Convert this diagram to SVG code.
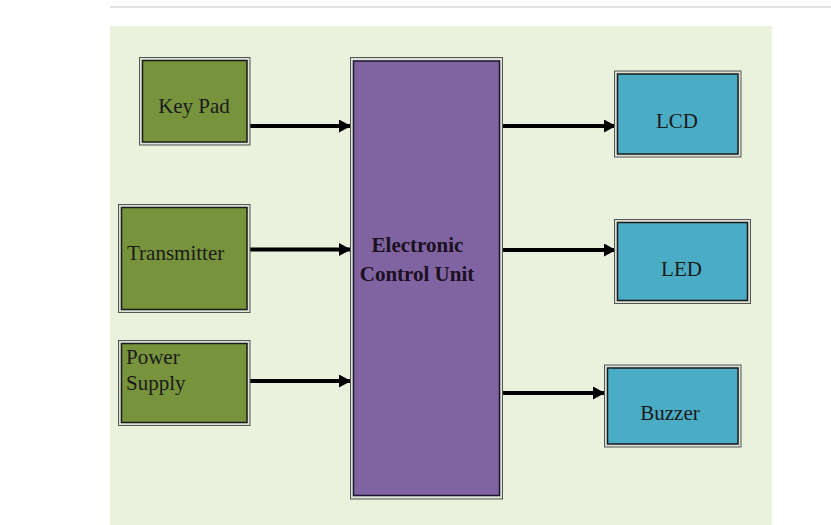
<svg xmlns="http://www.w3.org/2000/svg" width="831" height="525" viewBox="0 0 831 525">
<style>
.gap{fill:#dde2d6;stroke:#555;stroke-width:1}
.green{fill:#77933c;stroke:#1a1a1a;stroke-width:1.5}
.purple{fill:#8064a2;stroke:#1c1530;stroke-width:1.5}
.blue{fill:#4bacc6;stroke:#1a1a1a;stroke-width:1.5}
.t{font-family:"Liberation Serif","Times New Roman",serif;font-size:21px;fill:#1a1a1a}
.b{font-family:"Liberation Serif","Times New Roman",serif;font-size:21px;font-weight:bold;fill:#1a1020;text-anchor:middle}
.c{text-anchor:middle}
.wire{stroke:#000;stroke-width:4;fill:none}
</style>
<defs>
<marker id="ah" markerWidth="12" markerHeight="13" refX="12" refY="6.5" orient="auto" markerUnits="userSpaceOnUse">
<path d="M0,0 L12,6.5 L0,13 Z" fill="#000"/>
</marker>
</defs>
<rect width="831" height="525" fill="#fff"/>
<line x1="110" y1="7" x2="831" y2="7" stroke="#d9d9d9" stroke-width="1.5"/>
<rect x="110" y="26" width="662" height="499" fill="#eaf1dd"/>
<g id="connectors">
<line class="wire" x1="250" y1="126" x2="351" y2="126" marker-end="url(#ah)"/>
<line class="wire" x1="250" y1="249.5" x2="351" y2="249.5" marker-end="url(#ah)"/>
<line class="wire" x1="250" y1="381" x2="351" y2="381" marker-end="url(#ah)"/>
<line class="wire" x1="502" y1="126" x2="616" y2="126" marker-end="url(#ah)"/>
<line class="wire" x1="502" y1="250" x2="616" y2="250" marker-end="url(#ah)"/>
<line class="wire" x1="502" y1="393" x2="605" y2="393" marker-end="url(#ah)"/>
</g>
<g id="keypad">
<rect class="gap" x="139.5" y="57.5" width="110.5" height="87.5"/>
<rect class="green" x="142.5" y="60.5" width="104.5" height="81.5"/>
<text class="t c" x="194" y="113">Key Pad</text>
</g>
<g id="transmitter">
<rect class="gap" x="118.5" y="204.5" width="131.5" height="108"/>
<rect class="green" x="121.5" y="207.5" width="125.5" height="102"/>
<text class="t" x="127" y="260">Transmitter</text>
</g>
<g id="power">
<rect class="gap" x="118.5" y="340.5" width="131.5" height="85"/>
<rect class="green" x="121.5" y="343.5" width="125.5" height="79"/>
<text class="t" x="126" y="364">Power</text>
<text class="t" x="126" y="390">Supply</text>
</g>
<g id="ecu">
<rect class="gap" x="350.5" y="57.5" width="152" height="441.5"/>
<rect class="purple" x="353.5" y="61" width="146" height="434.5"/>
<text class="b" x="417.5" y="252">Electronic</text>
<text class="b" x="417" y="281">Control Unit</text>
</g>
<g id="lcd">
<rect class="gap" x="614.5" y="71" width="126.5" height="86"/>
<rect class="blue" x="617.5" y="74" width="120.5" height="80"/>
<text class="t c" x="677" y="128">LCD</text>
</g>
<g id="led">
<rect class="gap" x="614.5" y="219.5" width="136" height="84"/>
<rect class="blue" x="617.5" y="222.5" width="130" height="78"/>
<text class="t c" x="681.5" y="276">LED</text>
</g>
<g id="buzzer">
<rect class="gap" x="604.5" y="365" width="136.5" height="82"/>
<rect class="blue" x="607.5" y="368" width="130.5" height="76"/>
<text class="t c" x="670" y="420">Buzzer</text>
</g>
</svg>
